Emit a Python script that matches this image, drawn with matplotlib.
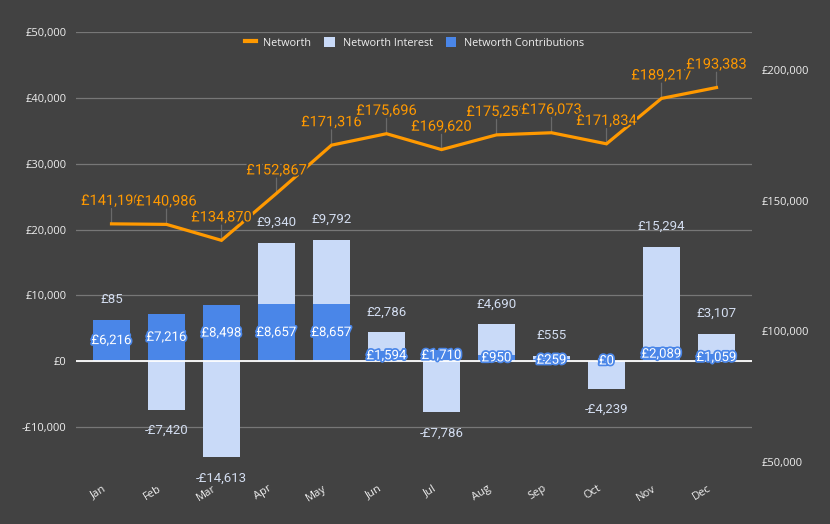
import matplotlib
matplotlib.use('Agg')
import matplotlib.pyplot as plt
import matplotlib.patheffects as pe
import matplotlib.transforms as mtransforms
from matplotlib.lines import Line2D
from matplotlib.patches import Patch
import matplotlib.ticker as ticker

# data
MONTHS = ['Jan', 'Feb', 'Mar', 'Apr', 'May', 'Jun', 'Jul', 'Aug', 'Sep', 'Oct', 'Nov', 'Dec']
CONTRIBUTIONS = [6216, 7216, 8498, 8657, 8657, 1594, 1710, 950, 259, 0, 2089, 1059]
INTEREST = [85, -7420, -14613, 9340, 9792, 2786, -7786, 4690, 555, -4239, 15294, 3107]
NETWORTH = [141190, 140986, 134870, 152867, 171316, 175696, 169620, 175259, 176073,
            171834, 189217, 193383]
LEFT_TICKS = [-10000, 0, 10000, 20000, 30000, 40000, 50000]
RIGHT_TICKS = [50000, 100000, 150000, 200000]

BG = '#424242'
C_LINE = '#ff9900'
C_CONTRIB = '#4a86e8'
C_INTEREST = '#c9daf8'
C_TEXT = '#eeeeee'
C_BARLABEL = '#d3ddf0'


def money(v):
    return f'-£{abs(v):,.0f}' if v < 0 else f'£{v:,.0f}'


fig = plt.figure(figsize=(8.3, 5.24), dpi=100, facecolor=BG)
ax = fig.add_axes([0.0916, 0.1183, 0.8144, 0.8201])
ax.set_facecolor(BG)
x = list(range(len(MONTHS)))

# stacked bars: contributions from zero, interest stacked on top (or below zero if negative)
ax.bar(x, CONTRIBUTIONS, width=0.655, color=C_CONTRIB, zorder=3)
bottoms = [c if i >= 0 else 0 for c, i in zip(CONTRIBUTIONS, INTEREST)]
ax.bar(x, INTEREST, bottom=bottoms, width=0.655, color=C_INTEREST, zorder=3)

ax.set_xlim(-0.645, 11.645)
ax.set_ylim(-15360, 50000)
ax.set_yticks(LEFT_TICKS)
ax.yaxis.set_major_formatter(ticker.FuncFormatter(lambda v, p: money(v)))
ax.grid(axis='y', color='#777777', linewidth=0.9, zorder=0)
ax.axhline(0, color='white', linewidth=1.3, zorder=4)
ax.set_xticks(x)
ax.set_xticklabels(MONTHS, rotation=32, ha='right', rotation_mode='anchor')
for s in ax.spines.values():
    s.set_visible(False)
ax.tick_params(axis='both', length=0, colors=C_TEXT, labelsize=8)
ax.tick_params(axis='y', pad=7)
ax.tick_params(axis='x', pad=15)
shift = mtransforms.ScaledTranslation(-0.09, 0, fig.dpi_scale_trans)
for lab in ax.get_xticklabels():
    lab.set_transform(lab.get_transform() + shift)
for lab in ax.get_xticklabels() + ax.get_yticklabels():
    lab.set_fontfamily('Open Sans')

# bar labels
for xi, c, i, b in zip(x, CONTRIBUTIONS, INTEREST, bottoms):
    ax.annotate(money(c), (xi, c / 2 if c > 0 else 0), ha='center', va='center',
                color='white', fontsize=9.5, family='Roboto', zorder=6,
                path_effects=[pe.withStroke(linewidth=2.5, foreground=C_CONTRIB)])
    if i >= 0:
        ax.annotate(money(i), (xi, b + i), xytext=(0, 14.5), textcoords='offset points',
                    ha='center', va='center', color=C_BARLABEL, fontsize=9.5,
                    family='Roboto', zorder=6)
    else:
        ax.annotate(money(i), (xi, i), xytext=(0, -15), textcoords='offset points',
                    ha='center', va='center', color=C_BARLABEL, fontsize=9.5,
                    family='Roboto', zorder=6)

# networth line on right axis
ax2 = ax.twinx()
ax2.set_ylim(50000, 214540)
ax2.set_yticks(RIGHT_TICKS)
ax2.yaxis.set_major_formatter(ticker.FuncFormatter(lambda v, p: money(v)))
for s in ax2.spines.values():
    s.set_visible(False)
ax2.tick_params(axis='y', length=0, colors=C_TEXT, labelsize=8, pad=7)
for lab in ax2.get_yticklabels():
    lab.set_fontfamily('Open Sans')
ax2.plot(x, NETWORTH, color=C_LINE, linewidth=2.3, zorder=5, solid_joinstyle='miter')
for xi, v in zip(x, NETWORTH):
    ax2.annotate('', (xi, v), xytext=(0, 11), textcoords='offset points',
                 arrowprops=dict(arrowstyle='-', color='#6a6a6a', linewidth=0.9,
                                 shrinkA=0, shrinkB=0))
    ax2.annotate(money(v), (xi, v), xytext=(0, 16.5), textcoords='offset points',
                 ha='center', va='center', color=C_LINE, fontsize=10.5, family='Roboto',
                 zorder=6, path_effects=[pe.withStroke(linewidth=3, foreground=BG)])

handles = [Line2D([0], [0], color=C_LINE, linewidth=3),
           Patch(facecolor=C_INTEREST), Patch(facecolor=C_CONTRIB)]
leg = fig.legend(handles, ['Networth', 'Networth Interest', 'Networth Contributions'],
                 loc='center', bbox_to_anchor=(0.4994, 0.918), ncol=3, frameon=False,
                 handlelength=1.0, handleheight=1.0, handletextpad=0.7,
                 columnspacing=1.2, prop={'family': 'Open Sans', 'size': 7.8})
for t in leg.get_texts():
    t.set_color(C_TEXT)

fig.savefig('out.png', dpi=100, facecolor=BG)
